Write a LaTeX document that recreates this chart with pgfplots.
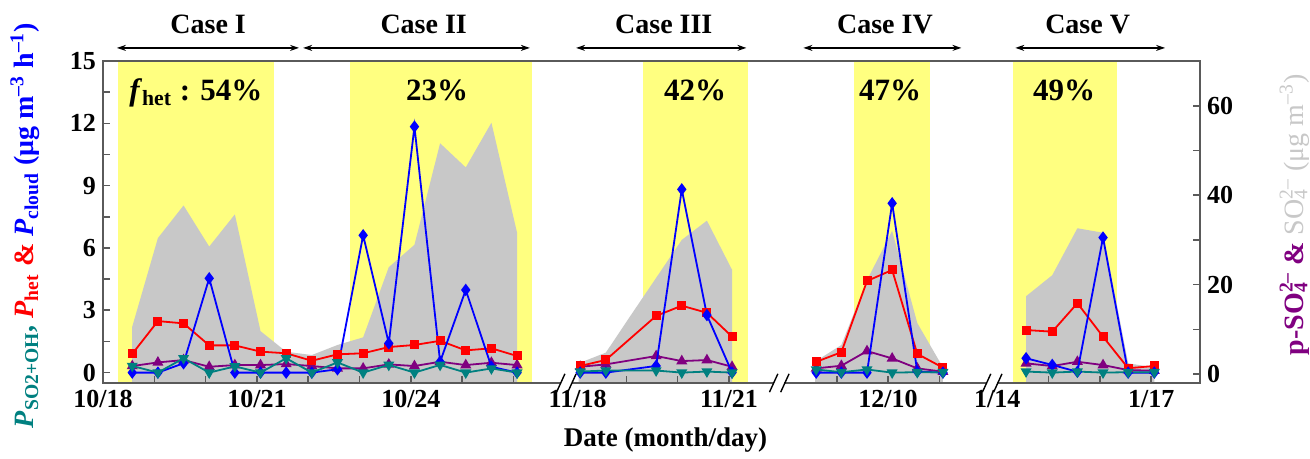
\documentclass[border=0pt]{standalone}
\usepackage{fontspec}
\setmainfont{Liberation Serif}
\usepackage{pgfplots}
\pgfplotsset{compat=1.18}
\usetikzlibrary{arrows.meta}
\definecolor{hl}{RGB}{255,255,128}
\definecolor{sgray}{RGB}{200,200,200}
\definecolor{pteal}{RGB}{0,128,128}
\definecolor{ppurple}{RGB}{128,0,128}
\definecolor{framec}{RGB}{90,90,90}
\begin{document}
\begin{tikzpicture}
\useasboundingbox (-51.5pt,-38pt) rectangle (603.5pt,191.5pt);
% ---------- right-axis scale: bands, SO4 area, p-SO4 ----------
\begin{axis}[
  scale only axis, width=548.5pt, height=161pt,
  xmin=0, xmax=21.38, ymin=-2, ymax=70,
  axis x line=none, axis y line*=right,
  y axis line style={draw=framec, line width=0.9pt},
  ytick={0,20,40,60}, minor ytick={10,30,50},
  tick align=inside, major tick length=3.5pt, minor tick length=3.5pt,
  every tick/.style={framec, line width=0.8pt},
  tick label style={font=\fontsize{13}{13}\selectfont\bfseries},
  /pgf/number format/assume math mode=true,
  ylabel={{\color{ppurple}\bfseries p-SO\rlap{\textsubscript{4}}\textsuperscript{2--} \& }{\color{sgray}\mdseries SO\rlap{\textsubscript{4}}\textsuperscript{2--} (μg m\textsuperscript{--3})}},
  ylabel style={font=\fontsize{14}{14}\selectfont, at={(axis description cs:1.086,0.522)}, anchor=center},
  unbounded coords=jump,
]
\addplot[fill=hl, draw=none] coordinates {(0.29,-2)(0.29,70)(3.33,70)(3.33,-2)};
\addplot[fill=hl, draw=none] coordinates {(4.81,-2)(4.81,70)(8.36,70)(8.36,-2)};
\addplot[fill=hl, draw=none] coordinates {(10.53,-2)(10.53,70)(12.57,70)(12.57,-2)};
\addplot[fill=hl, draw=none] coordinates {(14.64,-2)(14.64,70)(16.12,70)(16.12,-2)};
\addplot[fill=hl, draw=none] coordinates {(17.74,-2)(17.74,70)(19.77,70)(19.77,-2)};
% SO4 area
\addplot[fill=sgray, draw=none] coordinates {(0.57,-2)(0.57,10.6)(1.07,30.4)(1.57,37.7)(2.07,28.5)(2.57,35.7)(3.07,9.6)(3.57,5.0)(4.07,4.25)(4.57,6.5)(5.07,8.2)(5.57,23.9)(6.07,28.9)(6.57,51.6)(7.07,46.2)(7.57,56.2)(8.07,31.6)(8.07,-2)};
\addplot[fill=sgray, draw=none] coordinates {(9.27,-2)(9.27,2.4)(9.80,4.8)(10.29,13.2)(10.78,21.5)(11.28,30)(11.77,34.3)(12.26,23.3)(12.26,-2)};
\addplot[fill=sgray, draw=none] coordinates {(13.88,-2)(13.88,2.8)(14.39,6.5)(14.89,21)(15.38,32)(15.87,11.4)(16.37,1.5)(16.37,-2)};
\addplot[fill=sgray, draw=none] coordinates {(17.99,-2)(17.99,17.4)(18.50,22.1)(18.99,32.6)(19.49,31.6)(19.98,2.4)(20.49,1.5)(20.49,-2)};
% p-SO4
\addplot[ppurple, line width=0.9pt, mark=triangle*, mark size=2.3pt] coordinates {
(0.57,1.79)(1.07,2.6)(1.57,3.13)(2.07,1.63)(2.57,2.01)(3.07,2.01)(3.57,2.24)(4.07,1.79)(4.57,1.27)(5.07,1.27)(5.57,2.16)(6.07,1.79)(6.57,2.75)(7.07,2.01)(7.57,2.53)(8.07,2.01)
(8.6,nan)
(9.30,1.63)(9.80,2.16)(10.78,4.03)(11.28,2.9)(11.77,3.13)(12.26,1.63)
(13.0,nan)
(13.90,1.27)(14.39,1.86)(14.89,5.14)(15.38,3.5)(15.87,1.27)(16.37,0.52)
(17.0,nan)
(17.99,2.39)(18.50,1.79)(18.99,2.75)(19.49,2.01)(19.98,0.89)(20.49,0.74)};
\end{axis}
% ---------- left-axis scale ----------
\begin{axis}[
  scale only axis, width=548.5pt, height=161pt,
  xmin=0, xmax=21.38, ymin=-0.5, ymax=15,
  axis on top, clip=false,
  axis line style={draw=framec, line width=0.9pt},
  xtick pos=lower, ytick pos=left,
  xtick={0,3,6,12.2,15.3,20.43},
  xticklabels={10/18,10/21,10/24,11/21,12/10,1/17},
  extra x ticks={9.25,17.43},
  extra x tick labels={11/18,1/14},
  extra x tick style={tick style={draw=none}},
  minor xtick={1,2,4,5,7,8,10.2,11.2,14.3,16.3,18.43,19.43},
  ytick={0,3,6,9,12,15}, minor ytick={1.5,4.5,7.5,10.5,13.5},
  tick align=inside, major tick length=3.5pt, minor tick length=3.5pt,
  every tick/.style={framec, line width=0.8pt},
  tick label style={font=\fontsize{13}{13}\selectfont\bfseries},
  /pgf/number format/assume math mode=true,
  xlabel={Date (month/day)},
  xlabel style={font=\fontsize{13.5}{13.5}\selectfont\bfseries, xshift=7pt, yshift=-3pt},
  ylabel={{\color{pteal}\textit{P}\textsubscript{SO2+OH}, }{\color{red}\textit{P}\textsubscript{het} \& }{\color{blue}\textit{P}\textsubscript{cloud} (μg m\textsuperscript{--3} h\textsuperscript{--1})}},
  ylabel style={font=\fontsize{14}{14}\selectfont\bfseries, at={(axis description cs:-0.071,0.489)}, anchor=center},
  unbounded coords=jump,
]
\addplot[red, line width=0.9pt, mark=square*, mark size=1.8pt] coordinates {
(0.57,0.90)(1.07,2.48)(1.57,2.37)(2.07,1.31)(2.57,1.31)(3.07,1.01)(3.57,0.93)(4.07,0.57)(4.57,0.88)(5.07,0.93)(5.57,1.23)(6.07,1.33)(6.57,1.53)(7.07,1.07)(7.57,1.17)(8.07,0.80)
(8.6,nan)
(9.30,0.32)(9.80,0.61)(10.78,2.73)(11.28,3.22)(11.77,2.88)(12.26,1.73)
(13.0,nan)
(13.90,0.52)(14.39,0.98)(14.89,4.41)(15.38,4.94)(15.87,0.90)(16.37,0.24)
(17.0,nan)
(17.99,2.05)(18.50,1.97)(18.99,3.34)(19.49,1.73)(19.98,0.21)(20.49,0.32)};
\addplot[blue, line width=0.9pt, mark=diamond*, mark size=2.4pt] coordinates {
(0.57,0)(1.07,0)(1.57,0.45)(2.07,4.54)(2.57,0)(3.07,0)(3.57,0)(4.07,0)(4.57,0.16)(5.07,6.61)(5.57,1.41)(6.07,11.84)(6.57,0.52)(7.07,3.98)(7.57,0.28)(8.07,0)
(8.6,nan)
(9.30,0)(9.80,0)(10.78,0.32)(11.28,8.82)(11.77,2.77)(12.26,0)
(13.0,nan)
(13.90,0)(14.39,0)(14.89,0)(15.38,8.15)(15.87,0.05)(16.37,0)
(17.0,nan)
(17.99,0.69)(18.50,0.37)(18.99,0.04)(19.49,6.5)(19.98,0)(20.49,0)};
\addplot[pteal, line width=0.9pt, mark=triangle*, mark size=2.3pt, mark options={rotate=180}] coordinates {
(0.57,0.32)(1.07,0)(1.57,0.69)(2.07,0)(2.57,0.30)(3.07,0)(3.57,0.69)(4.07,0)(4.57,0.49)(5.07,0)(5.57,0.37)(6.07,0)(6.57,0.37)(7.07,0)(7.57,0.2)(8.07,0)
(8.6,nan)
(9.30,0.05)(9.80,0.1)(10.78,0.1)(11.28,0)(11.77,0.05)(12.26,0)
(13.0,nan)
(13.90,0.15)(14.39,0.02)(14.89,0.15)(15.38,0)(15.87,0.02)(16.37,0.02)
(17.0,nan)
(17.99,0.05)(18.50,0)(18.99,0.05)(19.49,0)(19.98,0.02)(20.49,0.02)};
% case arrows and labels
\begin{scope}[line width=0.7pt, {Stealth[length=4.5pt,width=3pt]}-{Stealth[length=4.5pt,width=3pt]}]
\draw (axis cs:0.27,15.63) -- (axis cs:3.82,15.63);
\draw (axis cs:3.90,15.63) -- (axis cs:8.32,15.63);
\draw (axis cs:9.22,15.63) -- (axis cs:12.54,15.63);
\draw (axis cs:13.65,15.63) -- (axis cs:16.73,15.63);
\draw (axis cs:17.78,15.63) -- (axis cs:20.70,15.63);
\end{scope}
\begin{scope}[every node/.style={anchor=base, font=\fontsize{14}{14}\selectfont\bfseries, inner sep=0pt}]
\node at (axis cs:2.05,16.33) {Case I};
\node at (axis cs:6.25,16.33) {Case II};
\node at (axis cs:10.93,16.33) {Case III};
\node at (axis cs:15.24,16.33) {Case IV};
\node at (axis cs:19.19,16.33) {Case V};
\end{scope}
\begin{scope}[every node/.style={anchor=base, font=\fontsize{15.5}{15.5}\selectfont\bfseries, inner sep=0pt}]
\node at (axis cs:1.81,13.12) {\textit{f}\textsubscript{het} : 54\%};
\node at (axis cs:6.51,13.12) {23\%};
\node at (axis cs:11.54,13.12) {42\%};
\node at (axis cs:15.34,13.12) {47\%};
\node at (axis cs:18.73,13.12) {49\%};
\end{scope}
\coordinate (brk1) at (axis cs:9.03,-0.5);
\coordinate (brk2) at (axis cs:13.18,-0.5);
\coordinate (brk3) at (axis cs:17.33,-0.5);
\end{axis}
\foreach \c in {brk1,brk2,brk3} {
  \fill[white] ([xshift=-2.6pt,yshift=-1.2pt]\c) rectangle ([xshift=2.6pt,yshift=1.2pt]\c);
  \draw[black, line width=0.7pt] ([xshift=-4.9pt,yshift=-4.6pt]\c) -- ([xshift=-0.7pt,yshift=4.6pt]\c);
  \draw[black, line width=0.7pt] ([xshift=0.7pt,yshift=-4.6pt]\c) -- ([xshift=4.9pt,yshift=4.6pt]\c);
}
\end{tikzpicture}
\end{document}
